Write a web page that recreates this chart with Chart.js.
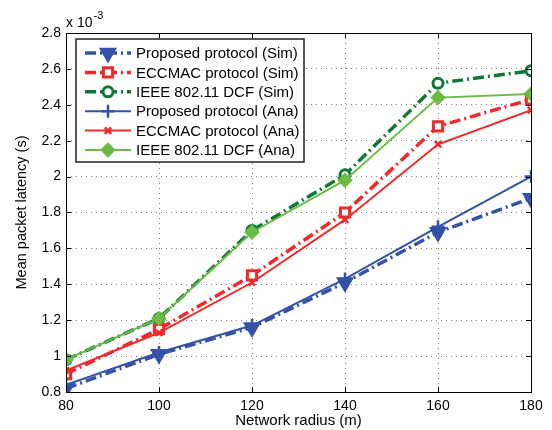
<!DOCTYPE html>
<html>
<head>
<meta charset="utf-8">
<script src="https://cdn.jsdelivr.net/npm/chart.js@4/dist/chart.umd.min.js"></script>
<style>
  html, body { margin: 0; padding: 0; background: #fff; }
  #wrap { width: 552px; height: 430px; }
</style>
</head>
<body>
<div id="wrap"><canvas id="latency"></canvas></div>
<script>
// network radius (m)
const radius = [80, 100, 120, 140, 160, 180];
// mean packet latency, in units of 1e-3 s
const proposedSim = [0.82, 1.01, 1.16, 1.41, 1.69, 1.88];
const eccmacSim = [0.90, 1.15, 1.45, 1.80, 2.28, 2.43];
const ieeeSim = [0.98, 1.21, 1.70, 2.01, 2.52, 2.59];
const proposedAna = [0.84, 1.02, 1.17, 1.43, 1.72, 2.00];
const eccmacAna = [0.92, 1.13, 1.41, 1.76, 2.18, 2.37];
const ieeeAna = [0.98, 1.21, 1.69, 1.98, 2.44, 2.46];
const yTicks = [0.8, 1, 1.2, 1.4, 1.6, 1.8, 2, 2.2, 2.4, 2.6, 2.8];

const FONT = 'Liberation Sans, Arial, sans-serif';
const BLUE = '#3352a8', RED = '#f02a2a', DKGREEN = '#10793a', LTGREEN = '#6cbb44';
const DASHDOT = [11, 4, 2, 4];

const pts = arr => arr.map((v, i) => ({ x: radius[i], y: v }));

function simSet(label, data, color, style, r, fill) {
    return {
        label, data: pts(data), borderColor: color, borderWidth: 3.5, borderDash: DASHDOT,
        pointStyle: style, pointRadius: r, pointBorderWidth: 3, pointRotation: style === 'triangle' ? 180 : 0,
        pointBackgroundColor: fill, pointBorderColor: color, order: 1, tension: 0
    };
}
function anaSet(label, data, color, style, r, fill) {
    return {
        label, data: pts(data), borderColor: color, borderWidth: 2,
        pointStyle: style, pointRadius: r, pointBorderWidth: 2.5,
        pointBackgroundColor: fill, pointBorderColor: color, order: 0, tension: 0
    };
}

const datasets = [
    simSet('Proposed protocol (Sim)', proposedSim, BLUE, 'triangle', 7.5, BLUE),
    simSet('ECCMAC protocol (Sim)', eccmacSim, RED, 'rect', 6.5, '#fff'),
    simSet('IEEE 802.11 DCF (Sim)', ieeeSim, DKGREEN, 'circle', 5, '#fff'),
    anaSet('Proposed protocol (Ana)', proposedAna, BLUE, 'cross', 6.5, BLUE),
    anaSet('ECCMAC protocol (Ana)', eccmacAna, RED, 'crossRot', 4.5, RED),
    anaSet('IEEE 802.11 DCF (Ana)', ieeeAna, LTGREEN, 'rectRot', 6, LTGREEN)
];

// axes frame, inward ticks, exponent label and the boxed legend
const matlabLook = {
    id: 'matlabLook',
    afterDraw(chart) {
        const { ctx, chartArea: a, scales } = chart;
        ctx.save();
        ctx.strokeStyle = '#000';
        ctx.lineWidth = 1;
        ctx.strokeRect(a.left + 0.5, a.top + 0.5, a.right - a.left, a.bottom - a.top);
        ctx.beginPath();
        radius.forEach(v => {
            const x = Math.round(scales.x.getPixelForValue(v)) + 0.5;
            ctx.moveTo(x, a.bottom); ctx.lineTo(x, a.bottom - 5);
            ctx.moveTo(x, a.top); ctx.lineTo(x, a.top + 5);
        });
        yTicks.forEach(v => {
            const y = Math.round(scales.y.getPixelForValue(v)) + 0.5;
            ctx.moveTo(a.left, y); ctx.lineTo(a.left + 5, y);
            ctx.moveTo(a.right, y); ctx.lineTo(a.right - 5, y);
        });
        ctx.stroke();

        ctx.fillStyle = '#000';
        ctx.textBaseline = 'alphabetic';
        ctx.textAlign = 'left';
        ctx.font = '14px ' + FONT;
        ctx.fillText('x 10', a.left, a.top - 6);
        const w = ctx.measureText('x 10').width;
        ctx.font = '11px ' + FONT;
        ctx.fillText('-3', a.left + w + 1, a.top - 14);

        // legend
        const bx = 76, by = 39, bw = 228, bh = 123, row = 19.4;
        ctx.fillStyle = '#fff';
        ctx.fillRect(bx, by, bw, bh);
        ctx.lineWidth = 1.5;
        ctx.strokeStyle = '#222';
        ctx.strokeRect(bx, by, bw, bh);
        ctx.font = '15px ' + FONT;
        ctx.textBaseline = 'middle';
        chart.data.datasets.forEach((ds, i) => {
            const y = by + 14 + i * row;
            ctx.strokeStyle = ds.borderColor;
            ctx.lineWidth = ds.borderWidth;
            ctx.setLineDash(ds.borderDash || []);
            ctx.beginPath();
            ctx.moveTo(bx + 9, y); ctx.lineTo(bx + 55, y);
            ctx.stroke();
            ctx.setLineDash([]);
            ctx.fillStyle = ds.pointBackgroundColor;
            ctx.strokeStyle = ds.pointBorderColor;
            ctx.lineWidth = ds.pointBorderWidth;
            Chart.helpers.drawPoint(ctx, {
                pointStyle: ds.pointStyle, rotation: ds.pointRotation || 0,
                radius: ds.pointRadius, borderWidth: ds.pointBorderWidth
            }, bx + 32, y);
            ctx.fillStyle = '#000';
            ctx.fillText(ds.label, bx + 60, y + 1);
        });
        ctx.restore();
    }
};

new Chart(document.getElementById('latency'), {
    type: 'line',
    data: { datasets },
    options: {
        responsive: true,
        maintainAspectRatio: false,
        animation: false,
        events: [],
        layout: { padding: { left: 0, top: 33, right: 21, bottom: 0 } },
        plugins: { legend: { display: false }, tooltip: { enabled: false } },
        scales: {
            x: {
                type: 'linear', min: 80, max: 180,
                afterBuildTicks: s => { s.ticks = radius.map(v => ({ value: v })); },
                afterFit: s => { s.height = 38; },
                ticks: { color: '#000', font: { family: FONT, size: 14 }, padding: 6, maxRotation: 0 },
                grid: { color: 'rgba(0,0,0,0.5)', drawTicks: false },
                border: { display: false, dash: [1, 4] },
                title: { display: true, text: 'Network radius (m)', color: '#000', font: { family: FONT, size: 15 }, padding: { top: 0, bottom: 0 } }
            },
            y: {
                min: 0.8, max: 2.8,
                afterBuildTicks: s => { s.ticks = yTicks.map(v => ({ value: v })); },
                afterFit: s => { s.width = 66; },
                ticks: { color: '#000', font: { family: FONT, size: 14 }, padding: 5, callback: v => String(Number(v.toFixed(1))) },
                grid: { color: 'rgba(0,0,0,0.5)', drawTicks: false },
                border: { display: false, dash: [1, 4] },
                title: { display: true, text: 'Mean packet latency (s)', color: '#000', font: { family: FONT, size: 14.5 }, padding: { top: 13, bottom: 0 } }
            }
        }
    },
    plugins: [matlabLook]
});
</script>
</body>
</html>
